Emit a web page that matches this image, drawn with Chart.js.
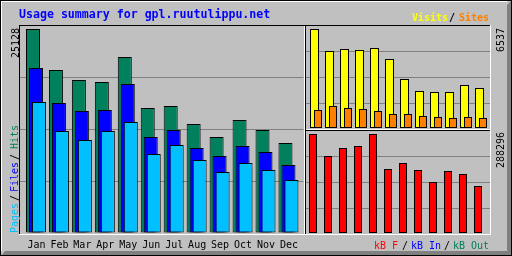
<!DOCTYPE html>
<html>
<head>
<meta charset="utf-8">
<title>Usage summary for gpl.ruutulippu.net</title>
<script src="https://cdn.jsdelivr.net/npm/chart.js@4"></script>
<style>
    html, body { margin: 0; padding: 0; background: #c0c0c0; }
    #wrap { position: relative; width: 512px; height: 256px; overflow: hidden; }
    #wrap canvas { position: absolute; }
    .t { position: absolute; font-family: "DejaVu Sans Mono", monospace; font-size: 10px; line-height: 10px; white-space: pre; }
    .b { font-weight: bold; }
    .up { transform-origin: 0 0; transform: rotate(-90deg); }
</style>
</head>
<body>
<div id="wrap">
    <canvas id="frame" width="512" height="256" style="left:0;top:0"></canvas>
    <canvas id="mainChart" width="284" height="231" style="left:20px;top:25px"></canvas>
    <canvas id="visitsChart" width="184" height="104" style="left:306px;top:25px"></canvas>
    <canvas id="kbChart" width="184" height="104" style="left:306px;top:130px"></canvas>

    <span class="t b" style="left:19px;top:9px;font-size:11.6px;line-height:11.6px;color:#0000ff">Usage summary for gpl.ruutulippu.net</span>

    <span class="t b" style="left:412px;top:12.5px;color:#ffff00">Visits</span>
    <span class="t b" style="left:449px;top:12.5px;color:#000">/</span>
    <span class="t b" style="left:459px;top:12.5px;color:#ff8000">Sites</span>

    <span class="t" style="left:374px;top:240.5px;color:#ff0000">kB F</span>
    <span class="t" style="left:402px;top:240.5px;color:#000">/</span>
    <span class="t" style="left:411px;top:240.5px;color:#0000ff">kB In</span>
    <span class="t" style="left:444px;top:240.5px;color:#000">/</span>
    <span class="t" style="left:453px;top:240.5px;color:#00805c">kB Out</span>

    <span class="t up" style="left:9.5px;top:233px;color:#00c0ff">Pages</span>
    <span class="t up" style="left:9.5px;top:201px;color:#000">/</span>
    <span class="t up" style="left:9.5px;top:192px;color:#0000ff">Files</span>
    <span class="t up" style="left:9.5px;top:160px;color:#000">/</span>
    <span class="t up" style="left:9.5px;top:149px;color:#00805c">Hits</span>

    <span id="maxHits" class="t up" style="left:10.5px;top:58px;color:#000"></span>
    <span id="maxVisits" class="t up" style="left:496px;top:52px;color:#000"></span>
    <span id="maxKb" class="t up" style="left:495.5px;top:168px;color:#000"></span>
</div>

<script>
/* ===== DATA ===== */
const months = ['Jan', 'Feb', 'Mar', 'Apr', 'May', 'Jun', 'Jul', 'Aug', 'Sep', 'Oct', 'Nov', 'Dec'];
const hits   = [25128, 20078, 18846, 18600, 21679, 15397, 15643, 13426, 11825, 13919, 12687, 11086];
const files  = [20324, 16013, 15027, 15151, 18353, 11825, 12687, 10470, 9485, 10716, 9977, 8376];
const pages  = [16136, 12564, 11455, 12564, 13673, 9731, 10839, 8992, 7514, 8622, 7760, 6528];
const visits = [6537, 5084, 5216, 5150, 5282, 4556, 3235, 2443, 2377, 2377, 2839, 2641];
const sites  = [1189, 1453, 1321, 1255, 1123, 924, 924, 792, 726, 660, 726, 660];
const kbytes = [288296, 224230, 247527, 253351, 287950, 186373, 203846, 183461, 148516, 180549, 171813, 136868];

const COLORS = {
    hits: '#00805c', files: '#0000ff', pages: '#00c0ff',
    visits: '#ffff00', sites: '#ff8000', kb: '#ff0000',
    grid: '#808080'
};

/* ===== FRAME (bevelled box like the webalizer images) ===== */
function drawFrame() {
    const ctx = document.getElementById('frame').getContext('2d');
    const hline = (x1, x2, y, c) => { ctx.fillStyle = c; ctx.fillRect(x1, y, x2 - x1 + 1, 1); };
    const vline = (x, y1, y2, c) => { ctx.fillStyle = c; ctx.fillRect(x, y1, 1, y2 - y1 + 1); };

    ctx.fillStyle = '#c0c0c0';
    ctx.fillRect(0, 0, 512, 256);

    // shadow on right / bottom
    ctx.fillStyle = '#808080';
    ctx.beginPath();
    ctx.moveTo(511, 1);
    ctx.lineTo(511, 256);
    ctx.lineTo(1, 256);
    ctx.lineTo(5, 251);
    ctx.lineTo(507, 251);
    ctx.lineTo(507, 5);
    ctx.closePath();
    ctx.fill();

    hline(0, 511, 0, '#000');
    hline(0, 511, 255, '#000');
    vline(0, 0, 255, '#000');
    vline(511, 0, 255, '#000');
    hline(1, 506, 1, '#fff');
    vline(1, 1, 250, '#fff');

    // plot box
    hline(19, 490, 25, '#000');
    vline(19, 25, 234, '#000');
    hline(19, 490, 234, '#fff');
    vline(490, 25, 234, '#fff');

    // section lines
    vline(304, 26, 233, '#fff');
    vline(305, 26, 233, '#000');
    hline(306, 489, 129, '#fff');
    hline(306, 489, 130, '#000');
}

/* ===== CHART HELPERS ===== */
const common = {
    responsive: false,
    animation: false,
    devicePixelRatio: 1,
    events: [],
    layout: { padding: 0 },
    plugins: { legend: { display: false }, tooltip: { enabled: false } }
};

function gridColor(ctx) {
    return (ctx.index === 0 || ctx.index === 4) ? 'rgba(0,0,0,0)' : COLORS.grid;
}

function valueAxis(min, max) {
    return {
        type: 'linear',
        min: min,
        max: max,
        alignToPixels: true,
        ticks: { display: false, count: 5 },
        grid: { color: gridColor, drawTicks: false, lineWidth: 1 },
        border: { display: false },
        afterFit: s => { s.width = 0; }
    };
}

// shift = sideways offset of the bar inside its month slot, in months
function barSet(label, values, color, shift, thickness, order) {
    return {
        label: label,
        order: order,
        data: values.map((v, i) => ({ x: i + shift, y: v })),
        backgroundColor: color,
        borderColor: '#000',
        borderWidth: 1,
        borderSkipped: false,
        inflateAmount: 0,
        grouped: false,
        barThickness: thickness
    };
}

/* ===== MAIN PANEL: hits / files / pages ===== */
function initMainChart() {
    const slot = 23;                 // px per month
    const xMin = -16.5 / slot;       // canvas starts 16.5px left of the Jan label centre
    const hitsMax = Math.max(...hits);

    new Chart(document.getElementById('mainChart').getContext('2d'), {
        type: 'bar',
        data: {
            datasets: [
                barSet('Hits', hits, COLORS.hits, -3.5 / slot, 14, 3),
                barSet('Files', files, COLORS.files, -0.5 / slot, 14, 2),
                barSet('Pages', pages, COLORS.pages, 2.5 / slot, 14, 1)
            ]
        },
        options: {
            ...common,
            scales: {
                x: {
                    type: 'linear',
                    min: xMin,
                    max: xMin + 284 / slot,
                    offset: false,
                    afterBuildTicks: s => { s.ticks = months.map((m, i) => ({ value: i })); },
                    afterFit: s => { s.height = 23; },
                    ticks: {
                        color: '#000',
                        font: { family: 'DejaVu Sans Mono', size: 10 },
                        padding: 6,
                        autoSkip: false,
                        maxRotation: 0,
                        minRotation: 0,
                        callback: v => months[v]
                    },
                    grid: { display: false, drawTicks: false },
                    border: { display: false }
                },
                y: valueAxis(0, hitsMax * 208 / 204)
            }
        }
    });
    document.getElementById('maxHits').textContent = hitsMax;
}

/* ===== RIGHT PANELS ===== */
function initSideChart(id, datasets, peak, maxLabelId) {
    const slot = 15;
    const xMin = -10 / slot;
    new Chart(document.getElementById(id).getContext('2d'), {
        type: 'bar',
        data: { datasets: datasets },
        options: {
            ...common,
            scales: {
                x: { type: 'linear', display: false, offset: false, min: xMin, max: xMin + 184 / slot },
                y: valueAxis(-peak / 99, peak * 103 / 99)
            }
        }
    });
    document.getElementById(maxLabelId).textContent = peak;
}

document.addEventListener('DOMContentLoaded', function() {
    drawFrame();
    initMainChart();

    initSideChart('visitsChart', [
        barSet('Visits', visits, COLORS.visits, -1.5 / 15, 9, 2),
        barSet('Sites', sites, COLORS.sites, 2 / 15, 8, 1)
    ], Math.max(...visits), 'maxVisits');

    initSideChart('kbChart', [
        barSet('kB F', kbytes, COLORS.kb, -3 / 15, 8, 1)
    ], Math.max(...kbytes), 'maxKb');
});
</script>
</body>
</html>
